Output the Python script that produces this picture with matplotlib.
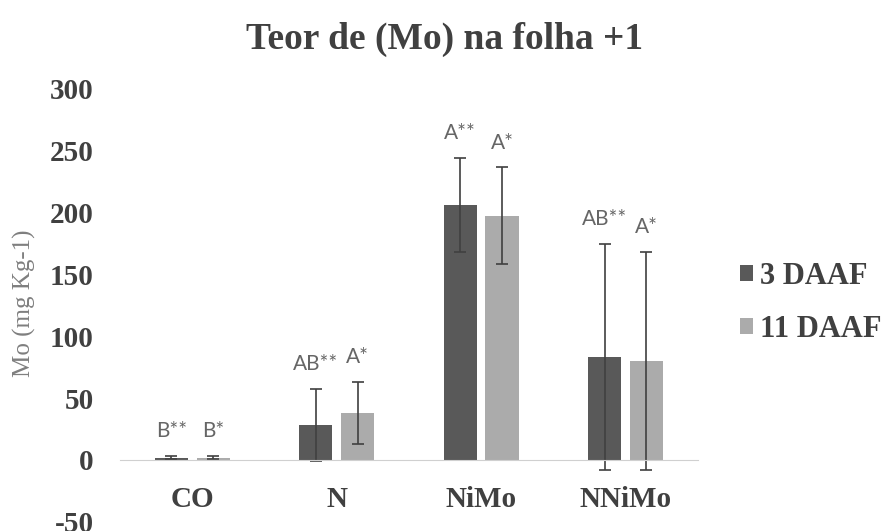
import numpy as np
import matplotlib.pyplot as plt

plt.rcParams['axes.unicode_minus'] = False

# Dados
categorias = ['CO', 'N', 'NiMo', 'NNiMo']
series = ['3 DAAF', '11 DAAF']
media_3 = [2, 28, 206, 83]
erro_3 = [1, 29, 38, 91]
media_11 = [2, 38, 197, 80]
erro_11 = [1, 25, 39, 88]
letras_3 = ['B**', 'AB**', 'A**', 'AB**']
letras_11 = ['B*', 'A*', 'A*', 'A*']

cor_3 = '#595959'
cor_11 = '#ababab'
serif = ['Liberation Serif', 'DejaVu Serif']

fig = plt.figure(figsize=(8.9, 5.31), dpi=100)
ax = fig.add_axes([0.135, 0.017, 0.649, 0.817])

# posiciona o eixo x no zero antes de mexer nos ticks
ax.spines['bottom'].set_position(('data', 0))
ax.spines['bottom'].set_color('#d0d0d0')
for s in ['top', 'right', 'left']:
    ax.spines[s].set_visible(False)

x = np.arange(len(categorias))
larg = 0.23
desloc = 0.145

ax.bar(x - desloc, media_3, larg, color=cor_3, label=series[0],
       yerr=erro_3, capsize=4, error_kw=dict(ecolor='#404040', elinewidth=1.2, capthick=1.2))
ax.bar(x + desloc, media_11, larg, color=cor_11, label=series[1],
       yerr=erro_11, capsize=4, error_kw=dict(ecolor='#404040', elinewidth=1.2, capthick=1.2))

# Letras de significancia
for i in range(len(categorias)):
    ax.text(x[i] - desloc, media_3[i] + erro_3[i] + 12, letras_3[i], ha='center', va='bottom',
            fontsize=15, color='#666666', family='Lato')
    ax.text(x[i] + desloc, media_11[i] + erro_11[i] + 12, letras_11[i], ha='center', va='bottom',
            fontsize=15, color='#666666', family='Lato')

ax.set_xlim(-0.5, len(categorias) - 0.5)
ax.set_ylim(-50, 300)
ax.set_yticks(range(-50, 301, 50))
ax.set_xticks(x)
ax.set_xticklabels(categorias)
for lab in ax.get_xticklabels() + ax.get_yticklabels():
    lab.set_fontsize(21)
    lab.set_fontweight('bold')
    lab.set_family(serif)
    lab.set_color('#404040')
ax.tick_params(axis='x', length=0, pad=19)
ax.tick_params(axis='y', length=0, pad=19)

ax.set_ylabel('Mo (mg Kg-1)', fontsize=18, family=serif, color='#7f7f7f')
ax.yaxis.set_label_coords(-0.145, 0.505)

fig.text(0.5, 0.925, 'Teor de (Mo) na folha +1', fontsize=27, fontweight='bold', family=serif,
         color='#404040', ha='center', va='center')

leg = ax.legend(loc='center left', bbox_to_anchor=(1.025, 0.505), frameon=False,
                prop=dict(family=serif, weight='bold', size=22), handlelength=0.45,
                handleheight=0.45, handletextpad=0.2, labelspacing=0.8)
for t in leg.get_texts():
    t.set_color('#404040')

plt.savefig('out.png', dpi=100)
